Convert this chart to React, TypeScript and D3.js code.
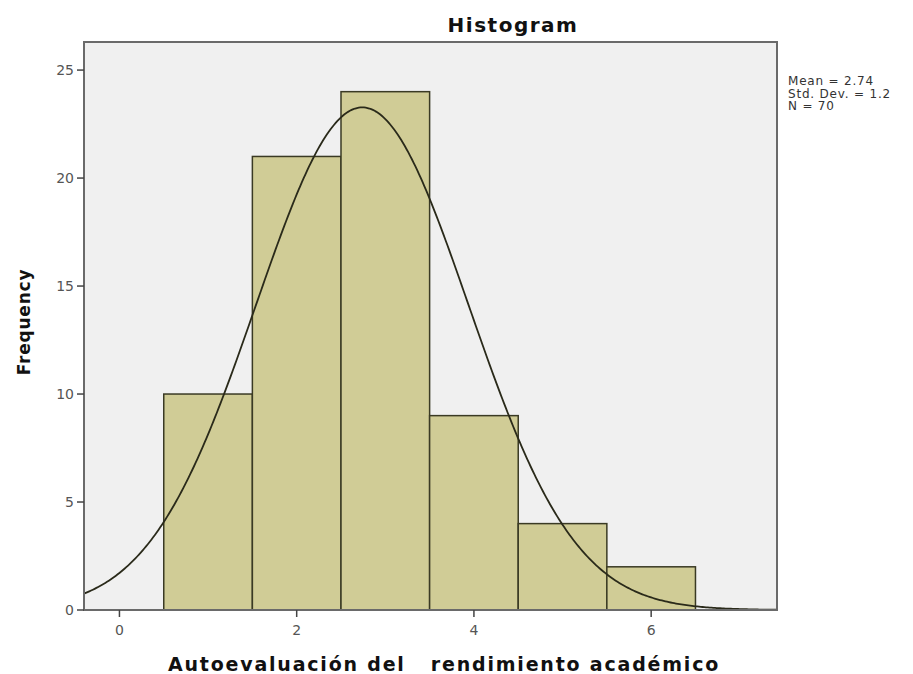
import React from "react";
import * as d3 from "d3";

const binCenters = [1, 2, 3, 4, 5, 6];
const frequencies = [10, 21, 24, 9, 4, 2];
const yTicks = [0, 5, 10, 15, 20, 25];
const xTicks = [0, 2, 4, 6];
const statsLines = ["Mean = 2.74", "Std. Dev. = 1.2", "N = 70"];
const meanVal = 2.74;
const sdVal = 1.2;
const nVal = 70;

export default function App() {
  const W = 913, H = 674;
  const left = 84, right = 777, top = 42, bottom = 610;
  const x = d3.scaleLinear().domain([-0.4, 7.42]).range([left, right]);
  const y = d3.scaleLinear().domain([0, 26.3]).range([bottom, top]);
  const pdf = (v: number) =>
    (nVal / (sdVal * Math.sqrt(2 * Math.PI))) * Math.exp(-0.5 * ((v - meanVal) / sdVal) ** 2);
  const pts = d3.range(-0.4, 7.42 + 1e-9, 0.02).map((v) => [v, pdf(v)] as [number, number]);
  const line = d3.line<[number, number]>().x((d) => x(d[0])).y((d) => y(d[1])).curve(d3.curveLinear);
  const font = "'DejaVu Sans', Verdana, sans-serif";
  return (
    <svg width={W} height={H} style={{ position: "absolute", left: 0, top: 0, background: "#fff" }}>
      <rect x={left} y={top} width={right - left} height={bottom - top} fill="#f0f0f0" />
      {binCenters.map((c, i) => (
        <rect key={i} x={x(c - 0.5)} y={y(frequencies[i])} width={x(c + 0.5) - x(c - 0.5)}
          height={y(0) - y(frequencies[i])} fill="#d0cc96" stroke="#3a3a24" strokeWidth={1.5} />
      ))}
      <path d={line(pts) || ""} fill="none" stroke="#2a2a1a" strokeWidth={1.8} />
      <rect x={left} y={top} width={right - left} height={bottom - top} fill="none" stroke="#6a6a6a" strokeWidth={2} />
      {yTicks.map((t) => (
        <g key={t}>
          <line x1={left - 7} x2={left} y1={y(t)} y2={y(t)} stroke="#444" strokeWidth={1.5} />
          <text x={left - 10} y={y(t)} dy="0.35em" textAnchor="end" fontFamily={font} fontSize={14} fill="#555">{t}</text>
        </g>
      ))}
      {xTicks.map((t) => (
        <g key={t}>
          <line x1={x(t)} x2={x(t)} y1={bottom} y2={bottom + 7} stroke="#444" strokeWidth={1.5} />
          <text x={x(t)} y={bottom + 25} textAnchor="middle" fontFamily={font} fontSize={14} fill="#555">{t}</text>
        </g>
      ))}
      <text x={513} y={32} textAnchor="middle" fontFamily={font} fontSize={20} fontWeight="bold" fill="#111" letterSpacing={1.5}>Histogram</text>
      <text transform={`translate(30,${322}) rotate(-90)`} textAnchor="middle" fontFamily={font} fontSize={17} fontWeight="bold" fill="#111" letterSpacing={0.8}>Frequency</text>
      <text x={444} y={671} textAnchor="middle" fontFamily={font} fontSize={19} fontWeight="bold" fill="#111" letterSpacing={1.8} style={{ whiteSpace: "pre" }}>Autoevaluación del   rendimiento académico</text>
      {statsLines.map((s, i) => (
        <text key={i} x={788} y={85 + i * 12.5} fontFamily={font} fontSize={12} fill="#333" letterSpacing={0.8}>{s}</text>
      ))}
    </svg>
  );
}
